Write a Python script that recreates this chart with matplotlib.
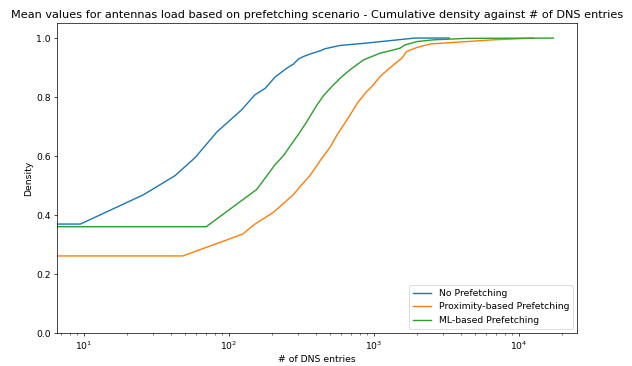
import matplotlib
matplotlib.use("Agg")
import matplotlib.pyplot as plt

# No Prefetching
x_no = [1, 9.5, 25.8, 42.7, 58.7, 83, 123, 152, 179, 209, 252, 280, 303, 330, 365,
        428, 463, 588, 897, 1170, 1607, 1930, 3320]
y_no = [0.370, 0.370, 0.469, 0.534, 0.595, 0.682, 0.757, 0.808, 0.830, 0.868, 0.898,
        0.912, 0.929, 0.938, 0.946, 0.957, 0.964, 0.975, 0.983, 0.989, 0.996, 1.0, 1.0]

# Proximity-based Prefetching
x_prox = [1, 48.3, 125, 152, 204, 280, 311, 365, 428, 500, 557, 653, 786, 897, 972, 1110,
          1265, 1565, 1693, 1987, 2455, 3750, 6700, 12650]
y_prox = [0.262, 0.262, 0.336, 0.370, 0.410, 0.470, 0.497, 0.535, 0.585, 0.630, 0.670, 0.722,
          0.785, 0.819, 0.836, 0.870, 0.895, 0.932, 0.955, 0.968, 0.980, 0.986, 0.994, 1.0]

# ML-based Prefetching
x_ml = [1, 70, 156, 209, 239, 280, 311, 346, 375, 405, 451, 520, 588, 689, 851, 1110, 1300,
        1524, 1650, 1987, 2585, 4395, 17400]
y_ml = [0.361, 0.361, 0.487, 0.571, 0.602, 0.650, 0.682, 0.717, 0.745, 0.772, 0.805, 0.838,
        0.864, 0.893, 0.926, 0.949, 0.957, 0.966, 0.977, 0.988, 0.994, 0.999, 1.0]

labels = ["No Prefetching", "Proximity-based Prefetching", "ML-based Prefetching"]

plt.rcParams["font.size"] = 10.5
fig = plt.figure(figsize=(10, 366 / 63.2), dpi=63.2)
ax = fig.add_axes([57 / 632, 1 - 333.3 / 366, (577.3 - 57) / 632, (333.3 - 23.3) / 366])
ax.plot(x_no, y_no, label=labels[0], lw=1.6)
ax.plot(x_prox, y_prox, label=labels[1], lw=1.6)
ax.plot(x_ml, y_ml, label=labels[2], lw=1.6)
ax.set_xscale("log")
ax.set_xlim(6.55, 25400)
ax.set_ylim(0, 1.05)
ax.set_xlabel("# of DNS entries")
ax.set_ylabel("Density")
ax.set_title("Mean values for antennas load based on prefetching scenario - Cumulative density against # of DNS entries",
             fontsize=12.8)
ax.legend(loc="lower right")
fig.savefig("out.png", dpi=63.2)
